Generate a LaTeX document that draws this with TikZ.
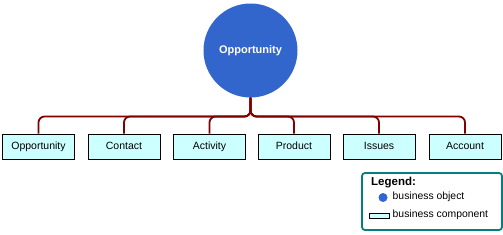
\documentclass[tikz,border=0pt]{standalone}
\usepackage{fontspec}
\setmainfont{Liberation Sans}
\usetikzlibrary{positioning,calc}
\definecolor{objblue}{HTML}{3366CC}
\definecolor{compfill}{HTML}{CCFFFF}
\definecolor{linkred}{HTML}{800000}
\definecolor{legteal}{HTML}{008080}
\tikzset{
  obj/.style={circle, fill=objblue, draw=none, minimum size=94pt, inner sep=0pt, text=white, font=\fontsize{11}{13}\selectfont\bfseries},
  comp/.style={rectangle, fill=compfill, draw=black, line width=0.8pt, minimum width=72pt, minimum height=25pt, inner sep=0pt, text height=7.6pt, text depth=2.2pt, font=\fontsize{10.5}{12}\selectfont},
  link/.style={draw=linkred, line width=1.8pt, rounded corners=6pt},
  legendbox/.style={rectangle, draw=legteal, line width=1.8pt, rounded corners=3pt, minimum width=140pt, minimum height=57pt},
  lab/.style={font=\fontsize{10.4}{12}\selectfont, inner sep=0pt, anchor=west, text height=7.6pt, text depth=2.2pt},
}
\begin{document}
\begin{tikzpicture}[x=1pt, y=-1pt]
  \useasboundingbox (0,0) rectangle (503,234);
  % business object
  \node[obj] (obj) at (250.5,50.5) {Opportunity};
  \coordinate (bus) at (0,116.5);
  % business components
  \foreach \i/\x/\name in {1/38.5/Opportunity, 2/124/Contact, 3/209.5/Activity,
                           4/294/Product, 5/379/Issues, 6/465/Account} {
    \node[comp] (c\i) at (\x,146.5) {\name};
    \draw[link] (obj.south) |- (c\i.north |- bus) -- (c\i.north);
  }
  % legend
  \node[legendbox] (legend) at (432,201.5) {};
  \node[lab, font=\fontsize{11.5}{13}\selectfont\bfseries] (legtitle) at (371,182.5) {Legend:};
  \node[circle, fill=objblue, minimum size=9pt, inner sep=0pt] (legobj) at (383,197.5) {};
  \node[lab] (legobjtxt) at (392.5,197) {business object};
  \node[rectangle, fill=compfill, draw=black, line width=0.8pt, minimum width=20pt, minimum height=5pt, inner sep=0pt] (legcomp) at (379,215.5) {};
  \node[lab] (legcomptxt) at (392.5,215) {business component};
\end{tikzpicture}
\end{document}
